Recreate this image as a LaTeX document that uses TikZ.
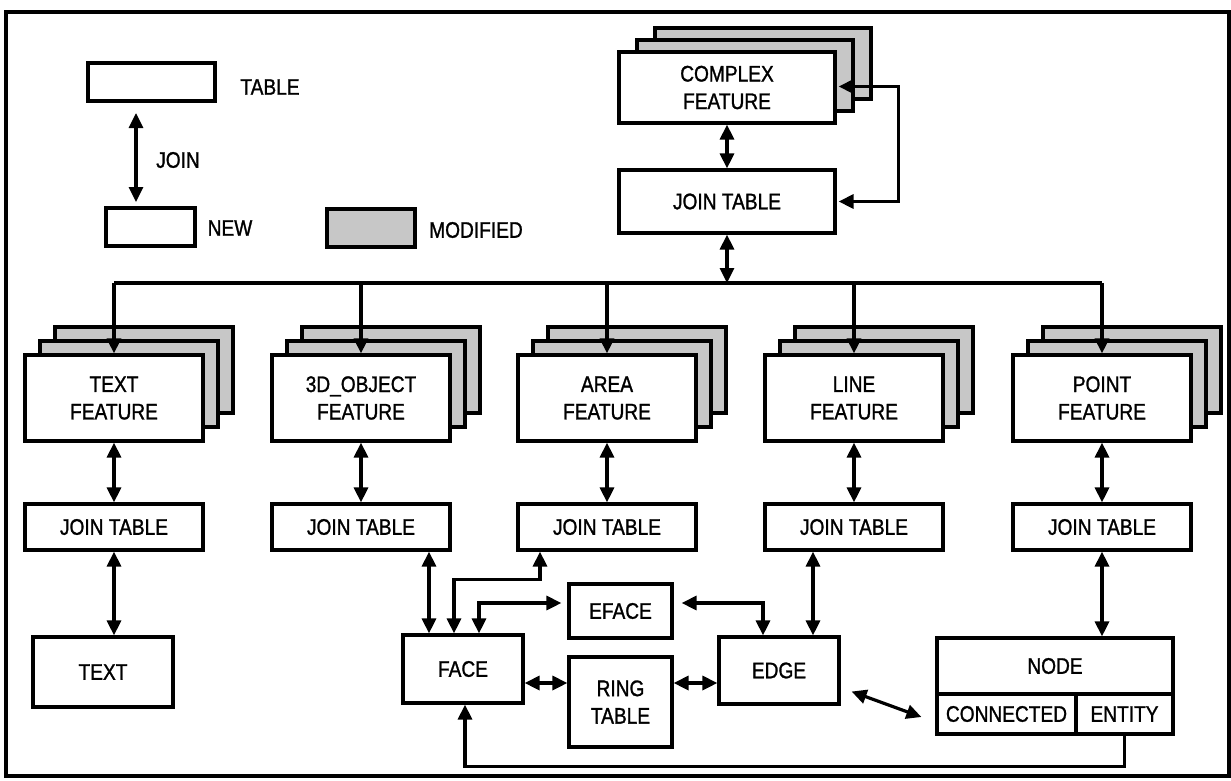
\documentclass[tikz,border=0pt]{standalone}
\usepackage{fontspec}
\setmainfont{Liberation Sans}[FakeStretch=0.85, FakeBold=1.2]
\usetikzlibrary{arrows.meta,calc}
\newcommand\dgfont{\fontsize{22.5}{27.5}\selectfont}
\tikzset{
  box/.style={draw, line width=3.2pt, fill=white, inner sep=0pt, align=center, font=\dgfont},
  lay/.style={draw, line width=3.2pt, fill=black!22, inner sep=0pt},
  lbl/.style={inner sep=0pt, font=\dgfont},
  featbox/.style={box, minimum width=178pt, minimum height=86pt},
  featlay/.style={lay, minimum width=178pt, minimum height=86pt},
  joinbox/.style={box, minimum width=178pt, minimum height=46pt},
  wire/.style={line width=3.2pt},
  conn/.style={line width=3.2pt, -{Triangle[length=15pt,width=14pt]}},
  biconn/.style={line width=3.2pt, {Triangle[length=15pt,width=14pt]}-{Triangle[length=15pt,width=14pt]}},
}
\begin{document}
\begin{tikzpicture}[x=1pt,y=-1pt]
\useasboundingbox (0,0) rectangle (1231,780);
% frame
\draw[line width=3.2pt] (6,12) rectangle (1229,776);

% legend
\node[box, minimum width=127pt, minimum height=38pt] (legtab) at (151.5,82) {};
\node[lbl] (legtabt) at (270,87) {TABLE};
\coordinate (ja) at (136,113);
\coordinate (jb) at (136,202);
\draw[biconn] (ja) -- (jb);
\node[lbl] (legjoin) at (178,160) {JOIN};
\node[box, minimum width=89pt, minimum height=38pt] (legnew) at (150.5,227) {};
\node[lbl] (legnewt) at (230,228) {NEW};
\node[lay, minimum width=88pt, minimum height=38pt] (legmod) at (371,228) {};
\node[lbl] (legmodt) at (476,230) {MODIFIED};

% complex feature
\node[lay, minimum width=216pt, minimum height=71pt] (cl2) at (763,63.5) {};
\node[lay, minimum width=216pt, minimum height=71pt] (cl1) at (745,75.5) {};
\node[box, minimum width=216pt, minimum height=71pt] (cfeat) at (727,87.5) {COMPLEX\\FEATURE};
\node[box, minimum width=216pt, minimum height=63pt] (cjoin) at (727,201.5) {JOIN TABLE};
\draw[biconn] (cfeat.south) -- (cjoin.north);
\draw[biconn] ($(cfeat.east)+(2,-1)$) -- ++(60,0) |- ($(cjoin.east)+(2,0)$);
\coordinate (bus) at (727,283);
\draw[biconn] (cjoin.south) -- (bus);

% features
\foreach \n/\x/\t in {tf/114/TEXT, of/361/3D\_OBJECT, af/607/AREA, lf/854/LINE, pf/1102/POINT}{
  \node[featlay] (\n l2) at (\x+30,370) {};
  \node[featlay] (\n l1) at (\x+15,384) {};
  \node[featbox] (\n) at (\x,398) {\t\\FEATURE};
}
\foreach \n/\x in {tj/114, oj/361, aj/607, lj/854, pj/1102}{
  \node[joinbox] (\n) at (\x,527) {JOIN TABLE};
}
\coordinate (busL) at (114,283);
\coordinate (busR) at (1102,283);
\draw[wire] (busL) -- (busR);
\foreach \n in {tf, of, af, lf, pf}{
  \draw[conn] (\n.north |- bus) -- (\n.north);
}
\foreach \a/\b in {tf/tj, of/oj, af/aj, lf/lj, pf/pj}{
  \draw[biconn] (\a.south) -- (\b.north);
}

% lower boxes
\node[box, minimum width=140pt, minimum height=70pt] (textb) at (103,672) {TEXT};
\node[box, minimum width=120pt, minimum height=68pt] (face) at (463,669) {FACE};
\node[box, minimum width=103pt, minimum height=54pt] (eface) at (620.5,611) {EFACE};
\node[box, minimum width=103pt, minimum height=90pt] (ring) at (620.5,702) {RING\\TABLE};
\node[box, minimum width=120pt, minimum height=67pt] (edge) at (779,670.5) {EDGE};
\node[box, minimum width=236pt, minimum height=56pt] (ntop) at (1055,666) {NODE};
\node[box, minimum width=139pt, minimum height=40pt] (ncon) at (1006.5,714) {CONNECTED};
\node[box, minimum width=97pt, minimum height=40pt] (nent) at (1124.5,714) {ENTITY};

% connectors
\draw[biconn] (tj.south) -- (tj.south |- textb.north);
\coordinate (p1) at ($(oj.south)+(68,0)$);
\draw[biconn] (p1) -- (p1 |- face.north);
\coordinate (p2) at ($(aj.south)+(-67,0)$);
\coordinate (p3) at ($(face.north)+(-9,0)$);
\draw[biconn] (p2) -- ++(0,28) -| (p3);
\draw[biconn] ($(eface.west)+(-6,-8)$) -| ($(face.north)+(16,0)$);
\draw[biconn] ($(eface.east)+(8,-8)$) -| ($(edge.north)+(-16,0)$);
\coordinate (p4) at ($(lj.south)+(-41,0)$);
\draw[biconn] (p4) -- (p4 |- edge.north);
\coordinate (p5) at ($(face.east)+(0,14)$);
\draw[biconn] (p5) -- (p5 -| ring.west);
\coordinate (p6) at ($(ring.east)+(0,-19)$);
\draw[biconn] (p6) -- (p6 -| edge.west);
\draw[biconn] ($(edge.east)+(11,21)$) -- ($(ncon.west)+(-14,3)$);
\draw[biconn] (pj.south) -- (pj.south |- ntop.north);
\draw[conn] (nent.south) -- ++(0,31) -| ($(face.south)+(2,0)$);
\end{tikzpicture}
\end{document}
